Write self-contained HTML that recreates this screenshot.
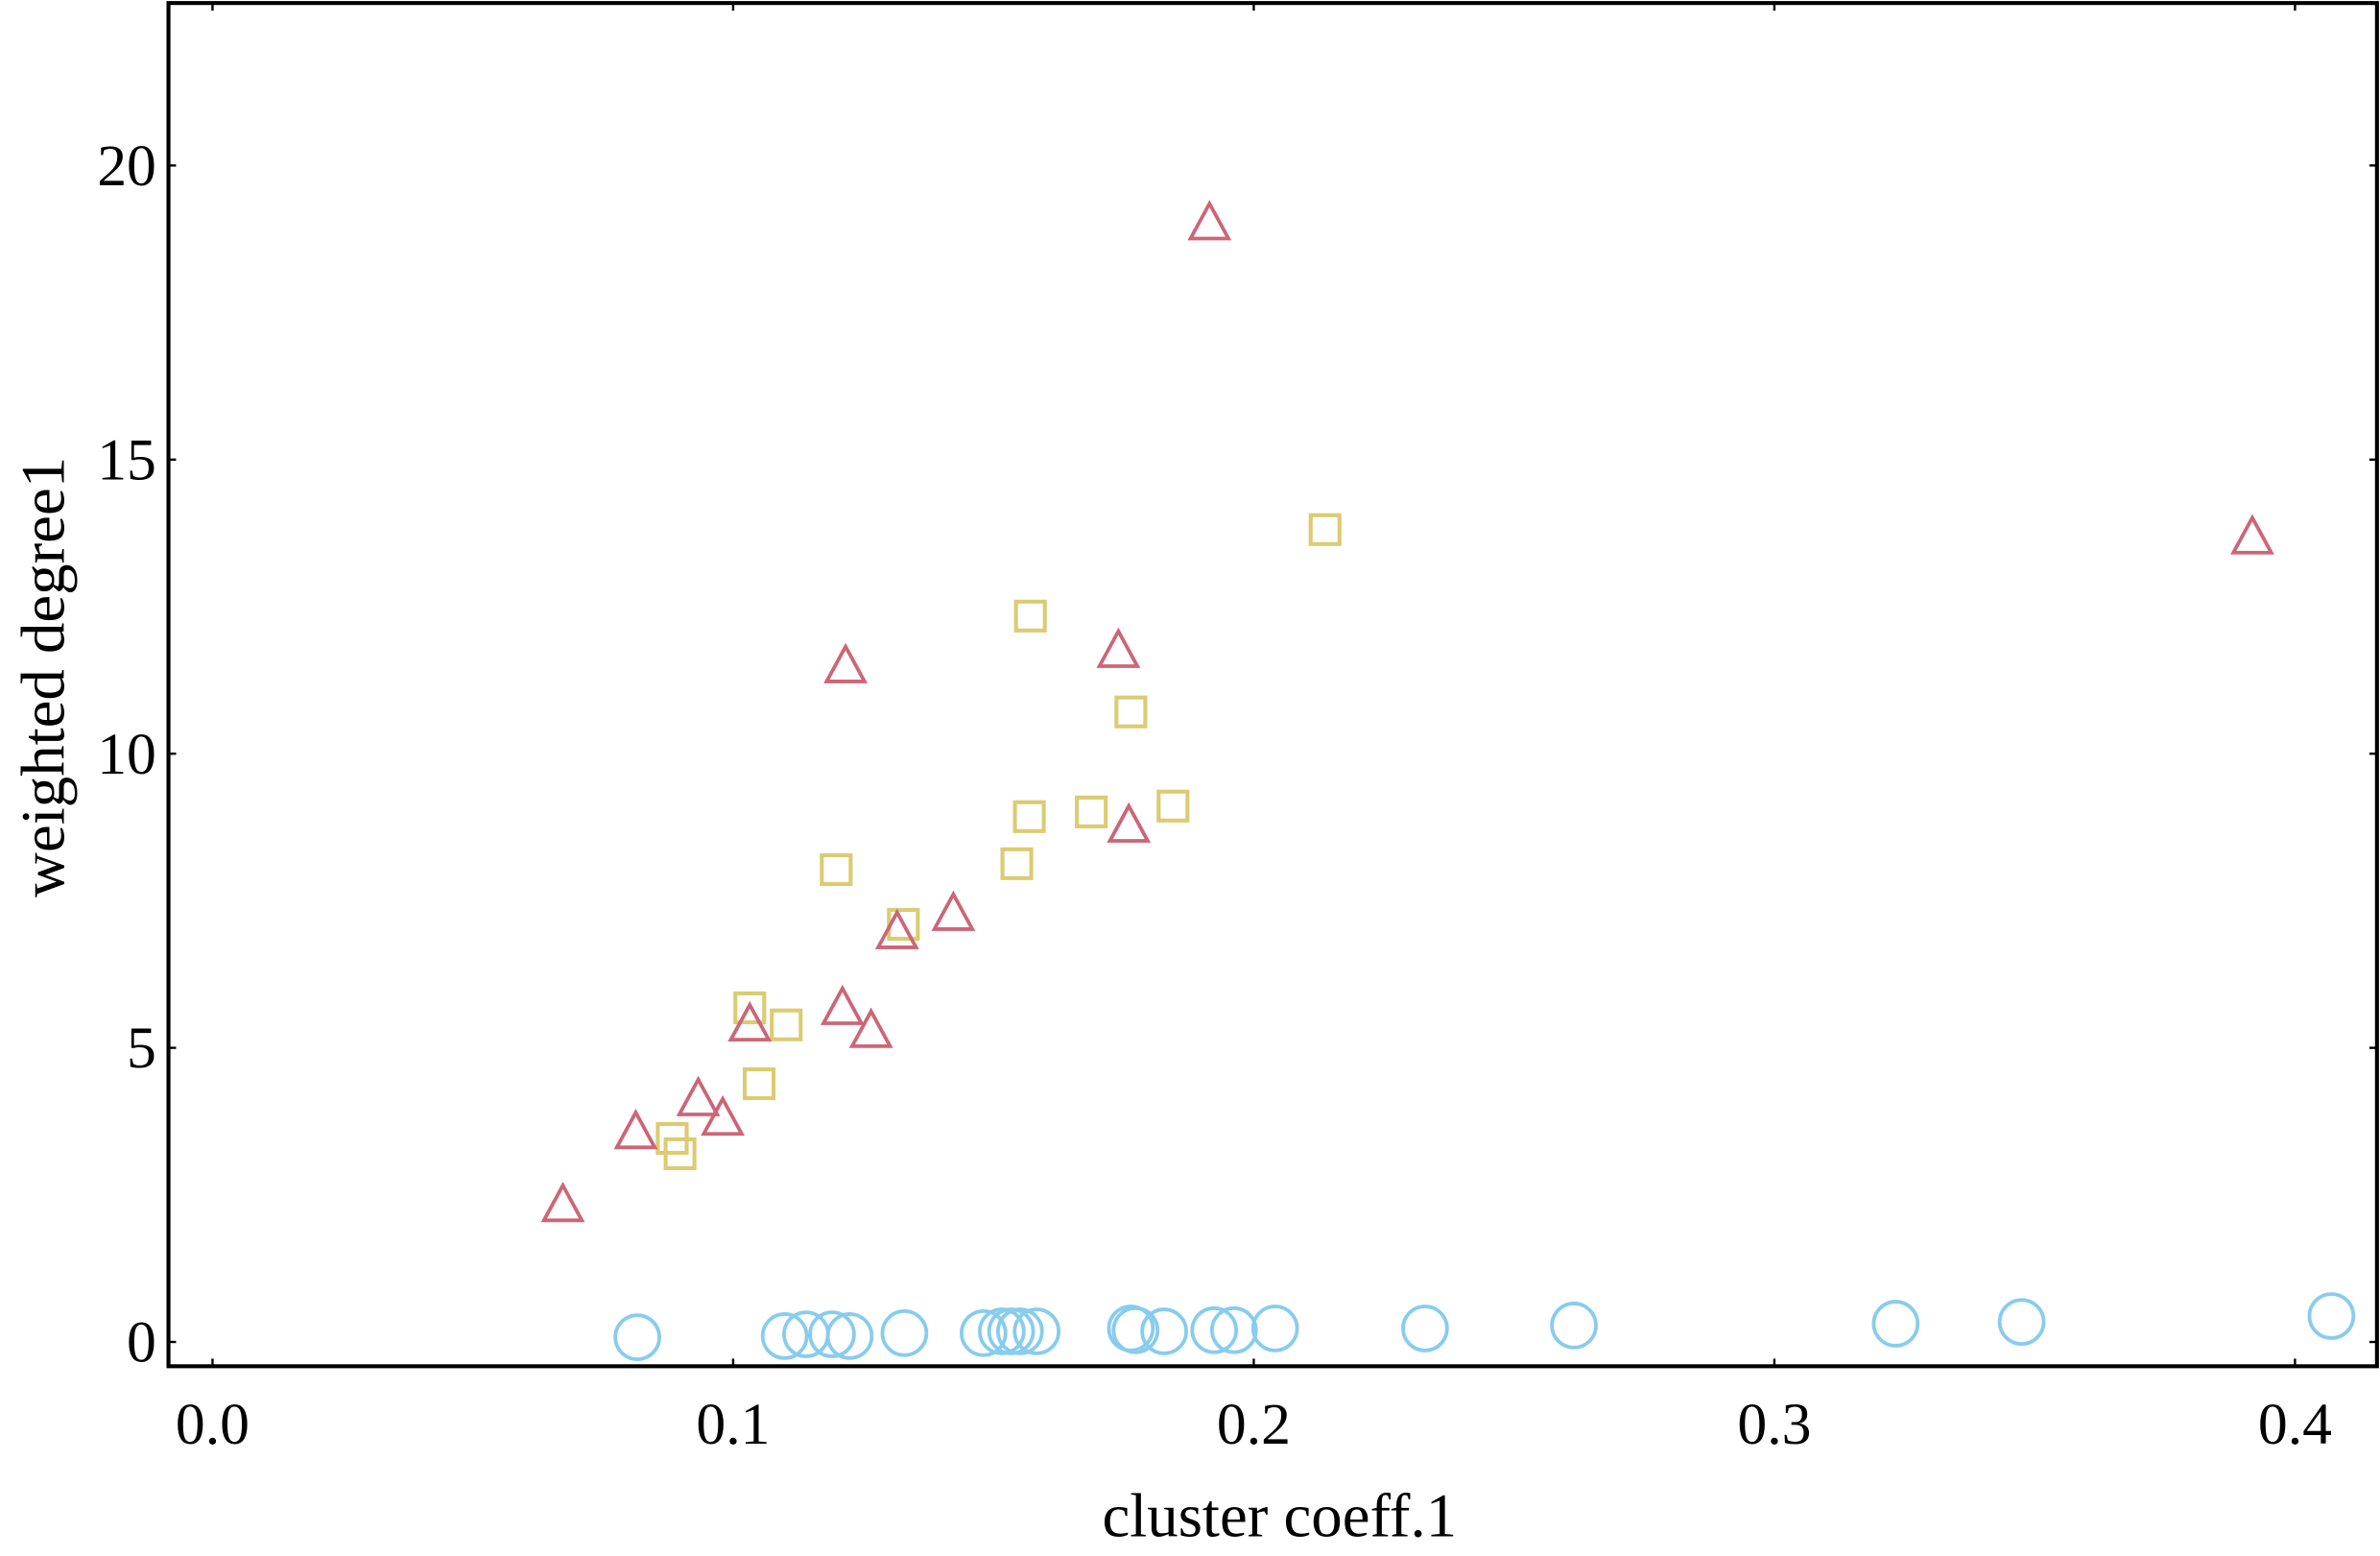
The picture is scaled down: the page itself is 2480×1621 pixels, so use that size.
<!DOCTYPE html>
<html><head><meta charset="utf-8"><style>
html,body{margin:0;padding:0;background:#fff;}
svg{display:block;}
text{font-family:"Liberation Serif",serif;fill:#000;}
</style></head><body>
<svg id="chart" width="2480" height="1621" viewBox="0 0 1568 1025" preserveAspectRatio="none" xmlns="http://www.w3.org/2000/svg">
<rect x="111" y="2" width="1455" height="898" fill="none" stroke="#000" stroke-width="2.6"/>
<g id="ticks"></g>
<g id="marks"></g>
<text x="843" y="1012" font-size="41" text-anchor="middle">cluster coeff.1</text>
<text transform="translate(42,446) rotate(-90)" font-size="41" text-anchor="middle">weighted degree1</text>
</svg>
<script>
const xTicks=[0.0,0.1,0.2,0.3,0.4];
const xTickLabels=["0.0","0.1","0.2","0.3","0.4"];
const yTicks=[0,5,10,15,20];
const yTickLabels=["0","5","10","15","20"];
const triX=[0.0673,0.0813,0.0933,0.098,0.1032,0.121,0.1265,0.1315,0.1423,0.1216,0.174,0.176,0.1915,0.3918];
const triY=[2.30,3.54,4.10,3.77,5.37,5.65,5.26,6.94,7.25,11.46,11.72,8.75,18.99,13.65];
const sqX=[0.0883,0.0898,0.1032,0.1102,0.105,0.1198,0.1327,0.1545,0.1569,0.1688,0.1845,0.1764,0.1571,0.2137];
const sqY=[3.46,3.20,5.68,5.39,4.39,8.03,7.10,8.13,8.93,9.01,9.11,10.71,12.34,13.81];
const cirX=[0.0816,0.1099,0.114,0.119,0.1224,0.1329,0.1481,0.1516,0.1534,0.1551,0.1583,0.1764,0.1773,0.1828,0.1924,0.1962,0.2041,0.2329,0.2615,0.3233,0.3475,0.407];
const cirY=[0.08,0.10,0.13,0.13,0.10,0.15,0.15,0.18,0.18,0.18,0.18,0.23,0.20,0.18,0.20,0.20,0.23,0.23,0.28,0.31,0.34,0.44];

const NS="http://www.w3.org/2000/svg";
function sx(v){return 140+v*3430;}
function sy(v){return 884-v*38.75;}
const tg=document.getElementById('ticks');
const mg=document.getElementById('marks');
function mk(tag,attrs,parent){const e=document.createElementNS(NS,tag);for(const k in attrs)e.setAttribute(k,attrs[k]);parent.appendChild(e);return e;}

xTicks.forEach((t,i)=>{
  const x=sx(t);
  let a=mk('line',{x1:x,x2:x,y1:900,y2:895,stroke:'#000','stroke-width':1.5},tg);
  
  
  let b=mk('line',{x1:x,x2:x,y1:2,y2:7,stroke:'#000','stroke-width':1.5},tg);
  
  
  let l=mk('text',{x:x,y:951,'font-size':39,'text-anchor':'middle'},tg);
  l.textContent=xTickLabels[i];
  
  
});
yTicks.forEach((t,i)=>{
  const y=sy(t);
  let a=mk('line',{x1:111,x2:116,y1:y,y2:y,stroke:'#000','stroke-width':1.5},tg);
  
  
  let b=mk('line',{x1:1566,x2:1561,y1:y,y2:y,stroke:'#000','stroke-width':1.5},tg);
  
  
  let l=mk('text',{x:103,y:y+13,'font-size':39,'text-anchor':'end'},tg);
  l.textContent=yTickLabels[i];
  
  
});
cirX.forEach((v,i)=>{
  let c=mk('circle',{cx:sx(v),cy:sy(cirY[i]),r:14.5,fill:'none',stroke:'#88ccee','stroke-width':2.4},mg);
  
  
});
sqX.forEach((v,i)=>{
  const x=sx(v),y=sy(sqY[i]);
  let r=mk('rect',{x:x-9.5,y:y-9.5,width:19,height:19,fill:'none',stroke:'#dccb72','stroke-width':2.6},mg);
  
  
});
triX.forEach((v,i)=>{
  const x=sx(v),y=sy(triY[i]);
  let p=mk('polygon',{points:`${x},${y-14} ${x-12.5},${y+9} ${x+12.5},${y+9}`,fill:'none',stroke:'#cc6677','stroke-width':2.4},mg);
  
  
});
</script>
</body></html>
